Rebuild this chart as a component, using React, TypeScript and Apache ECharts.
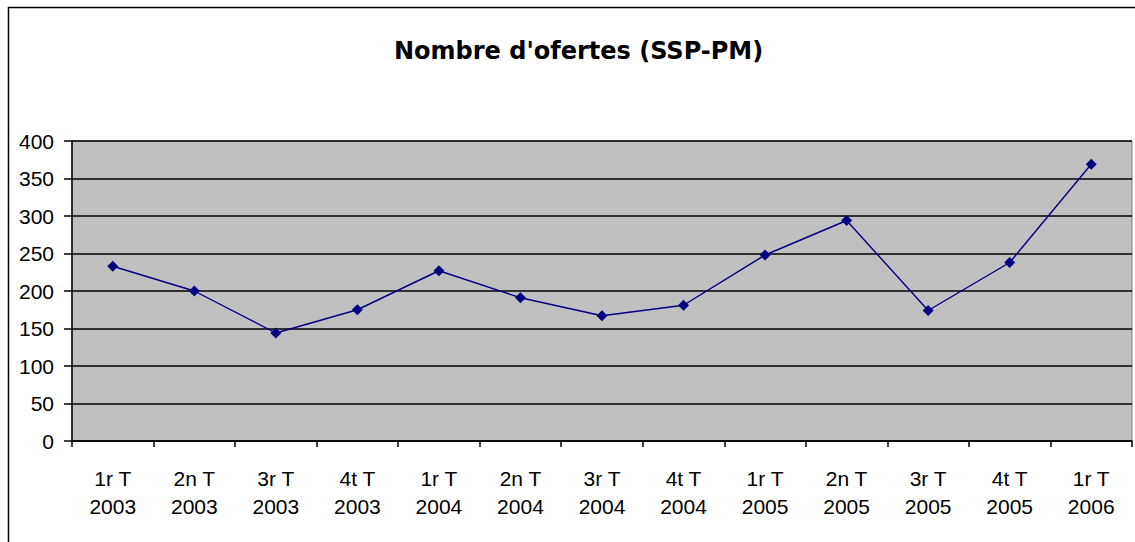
import React, { useEffect, useRef } from "react";
import * as echarts from "echarts";

const categories = [
  "1r T\n2003", "2n T\n2003", "3r T\n2003", "4t T\n2003",
  "1r T\n2004", "2n T\n2004", "3r T\n2004", "4t T\n2004",
  "1r T\n2005", "2n T\n2005", "3r T\n2005", "4t T\n2005",
  "1r T\n2006",
];
const ofertes = [233, 200, 144, 175, 227, 191, 167, 181, 248, 294, 174, 238, 369];
const titleText = "Nombre d'ofertes (SSP-PM)";

export default function App() {
  const ref = useRef<HTMLDivElement>(null);
  useEffect(() => {
    if (!ref.current) return;
    const chart = echarts.init(ref.current, null, { renderer: "svg" });
    chart.setOption({
      animation: false,
      backgroundColor: "#ffffff",
      title: {
        text: titleText,
        left: 389,
        top: 34,
        textStyle: {
          fontFamily: "DejaVu Sans, sans-serif",
          fontSize: 24,
          fontWeight: "bold",
          color: "#000",
        },
      },
      graphic: [
        {
          type: "rect",
          shape: { x: 8.5, y: 7.5, width: 1140, height: 540 },
          style: { fill: "none", stroke: "#000", lineWidth: 1.5 },
          z: 100,
        },
      ],
      grid: {
        left: 72,
        right: 3,
        top: 141,
        bottom: 101,
        show: true,
        backgroundColor: "#c0c0c0",
        borderColor: "#808080",
        borderWidth: 1,
      },
      xAxis: {
        type: "category",
        data: categories,
        boundaryGap: true,
        axisLine: { show: true, lineStyle: { color: "#000", width: 1.5 } },
        axisTick: { show: true, length: 6, lineStyle: { color: "#000", width: 1.5 } },
        axisLabel: {
          color: "#000",
          fontFamily: "Liberation Sans, Arial, sans-serif",
          fontSize: 21,
          lineHeight: 28,
          margin: 23,
          interval: 0,
        },
        splitLine: { show: false },
      },
      yAxis: {
        type: "value",
        min: 0,
        max: 400,
        interval: 50,
        axisLine: { show: true, lineStyle: { color: "#000", width: 1.5 } },
        axisTick: { show: true, length: 8, lineStyle: { color: "#000", width: 1.5 } },
        axisLabel: {
          color: "#000",
          fontFamily: "Liberation Sans, Arial, sans-serif",
          fontSize: 21,
          margin: 18,
        },
        splitLine: { show: true, lineStyle: { color: "#000", width: 1.5 } },
      },
      series: [
        {
          type: "line",
          data: ofertes,
          symbol: "diamond",
          symbolSize: 11,
          itemStyle: { color: "#000080" },
          lineStyle: { color: "#000080", width: 1.4 },
        },
      ],
    });
    return () => chart.dispose();
  }, []);
  return (
    <div
      ref={ref}
      style={{ position: "fixed", left: 0, top: 0, width: 1135, height: 542 }}
    />
  );
}
